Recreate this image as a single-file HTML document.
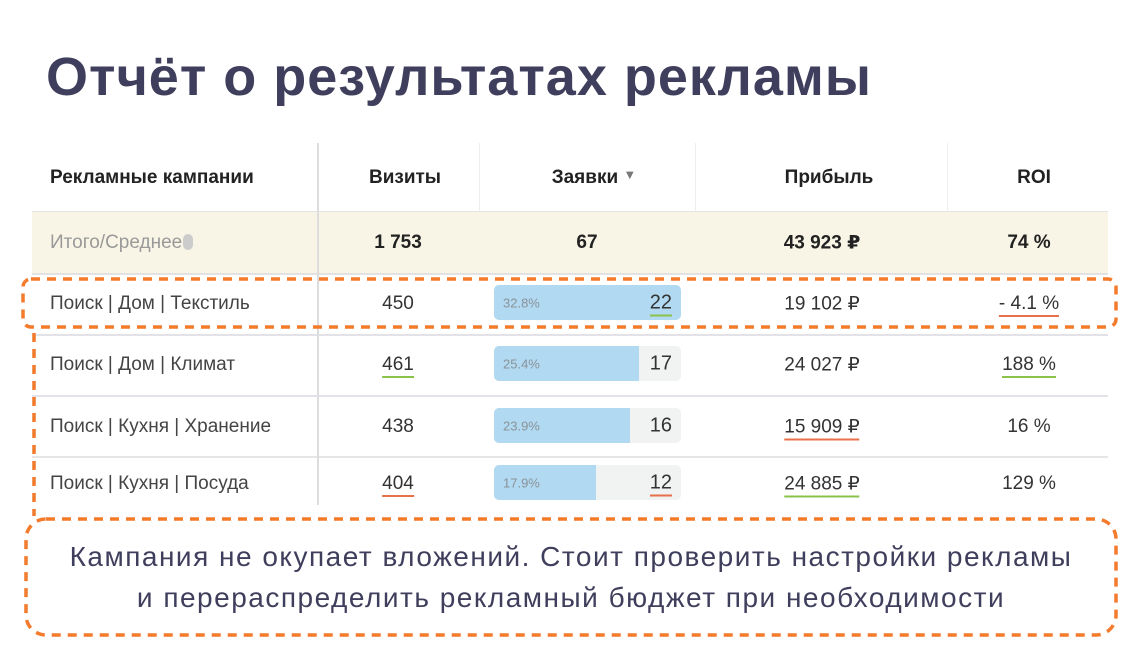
<!DOCTYPE html>
<html><head><meta charset="utf-8"><style>
body{margin:0;width:1140px;height:671px;background:#fff;position:relative;overflow:hidden;font-family:"Liberation Sans","DejaVu Sans",sans-serif;}
.a{position:absolute;}
.t{position:absolute;transform:translate(-50%,-50%);white-space:nowrap;font-size:19px;color:#333;}
.l{position:absolute;transform:translateY(-50%);white-space:nowrap;font-size:19px;color:#444;}
.h{font-weight:bold;color:#222;}
.ug{border-bottom:2px solid #8bc34a;padding-bottom:1px}
.ur{border-bottom:2px solid #e8704a;padding-bottom:1px}
</style></head><body>
<div class="a" style="left:46px;top:46px;font-size:54px;font-weight:bold;color:#3f3e5c;letter-spacing:1px">Отчёт о результатах рекламы</div>

<div class="a" style="left:32px;top:212px;width:1076px;height:61px;background:#f9f5e6"></div>
<div class="a" style="left:32px;top:211px;width:1076px;height:1px;background:#e4e4e4"></div>
<div class="a" style="left:32px;top:273px;width:1076px;height:2px;background:#e2e2e2"></div>
<div class="a" style="left:32px;top:334px;width:1076px;height:2px;background:#e2e2e8"></div>
<div class="a" style="left:32px;top:395px;width:1076px;height:2px;background:#e2e2e8"></div>
<div class="a" style="left:32px;top:456px;width:1076px;height:2px;background:#e6e6e6"></div>
<div class="a" style="left:317px;top:143px;width:2px;height:362px;background:#ddd"></div>
<div class="a" style="left:479px;top:143px;width:1px;height:68px;background:#eee"></div>
<div class="a" style="left:695px;top:143px;width:1px;height:68px;background:#eee"></div>
<div class="a" style="left:947px;top:143px;width:1px;height:68px;background:#eee"></div>

<div class="l h" style="left:50px;top:178px">Рекламные кампании</div>
<div class="t h" style="left:405px;top:178px">Визиты</div>
<div class="t h" style="left:594px;top:178px">Заявки <span style="font-size:13px;color:#777;vertical-align:top">▼</span></div>
<div class="t h" style="left:829px;top:178px">Прибыль</div>
<div class="t h" style="left:1034px;top:178px">ROI</div>

<div class="l" style="left:50px;top:243px;color:#999">Итого/Среднее<span style="display:inline-block;width:10px;height:16px;background:#ccc;border-radius:5px;vertical-align:-2px;margin-left:1px"></span></div>
<div class="t h" style="left:398px;top:243px">1 753</div>
<div class="t h" style="left:587px;top:243px">67</div>
<div class="t h" style="left:822px;top:243px">43 923 ₽</div>
<div class="t h" style="left:1029px;top:243px">74 %</div>

<div id="rows"></div>

<svg class="a" style="left:0;top:0" width="1140" height="671">
<rect x="23" y="279" width="1093" height="48" rx="8" fill="none" stroke="#f47a2c" stroke-width="3.5" stroke-dasharray="9,7"/>
<line x1="34" y1="333" x2="34" y2="516" stroke="#f47a2c" stroke-width="3.5" stroke-dasharray="9,7"/>
<rect x="26" y="519" width="1090" height="116" rx="20" fill="none" stroke="#f47a2c" stroke-width="3.5" stroke-dasharray="9,7"/>
</svg>
<div class="a" style="left:26px;top:536px;width:1090px;text-align:center;font-size:28px;letter-spacing:1.5px;line-height:41px;color:#3f3e5c">Кампания не окупает вложений. Стоит проверить настройки рекламы<br>и перераспределить рекламный бюджет при необходимости</div>

<script>
const campaigns=["Поиск | Дом | Текстиль","Поиск | Дом | Климат","Поиск | Кухня | Хранение","Поиск | Кухня | Посуда"];
const visits=[450,461,438,404];
const leads=[22,17,16,12];
const leadShare=[32.8,25.4,23.9,17.9];
const profit=["19 102 ₽","24 027 ₽","15 909 ₽","24 885 ₽"];
const roi=["- 4.1 %","188 %","16 %","129 %"];
const visitsMark=["","g","","r"];
const leadsMark=["g","","","r"];
const profitMark=["","","r","g"];
const roiMark=["r","g","",""];
const rowY=[304,365,427,484];
const maxShare=Math.max(...leadShare);
const host=document.getElementById('rows');
function cls(m){return m==='g'?'ug':m==='r'?'ur':'';}
campaigns.forEach((c,i)=>{
 const y=rowY[i];
 const w=187*leadShare[i]/maxShare;
 const row=document.createElement('div');
 
 
 row.innerHTML=`<div class="l" style="left:50px;top:${y}px">${c}</div>
<div class="t" style="left:398px;top:${y}px"><span class="${cls(visitsMark[i])}">${visits[i]}</span></div>
<div class="a" style="left:494px;top:${y-19}px;width:187px;height:35px;background:#f1f2f2;border-radius:5px;overflow:hidden">
<div style="width:${w}px;height:35px;background:#b1d9f1"></div></div>
<div class="l" style="left:503px;top:${y-1}px;font-size:13px;color:#8a9399">${leadShare[i]}%</div>
<div class="l" style="right:${1140-672}px;top:${y-1}px;font-size:20px;color:#333"><span class="${cls(leadsMark[i])}">${leads[i]}</span></div>
<div class="t" style="left:822px;top:${y}px"><span class="${cls(profitMark[i])}">${profit[i]}</span></div>
<div class="t" style="left:1029px;top:${y}px"><span class="${cls(roiMark[i])}">${roi[i]}</span></div>`;
 host.appendChild(row);
});
</script>
</body></html>
